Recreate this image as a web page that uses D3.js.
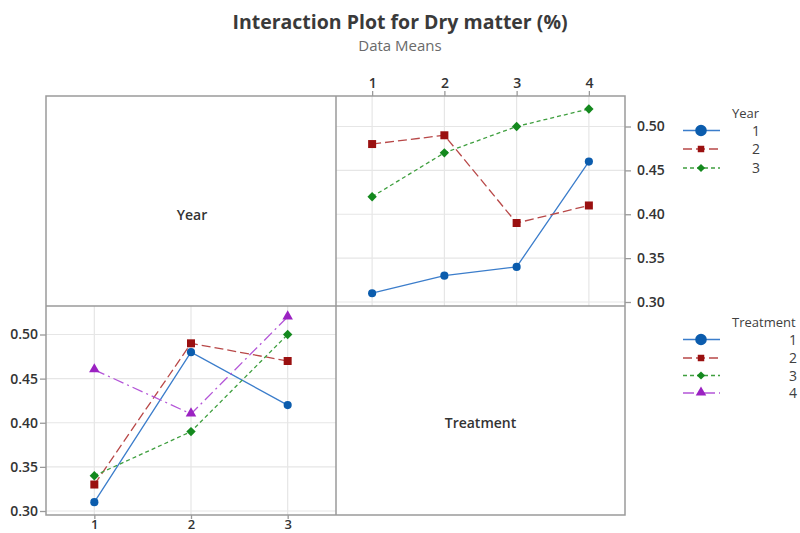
<!DOCTYPE html>
<html>
<head>
<meta charset="utf-8">
<script src="https://cdn.jsdelivr.net/npm/d3@7"></script>
<style>
  html, body { margin: 0; padding: 0; background: #ffffff; }
  svg { display: block; font-family: "Open Sans", "Noto Sans", sans-serif; }
</style>
</head>
<body>
<svg id="chart" width="800" height="533"></svg>
<script>
// ---------------- Data ----------------
const chartTitle = "Interaction Plot for Dry matter (%)";
const chartSubtitle = "Data Means";

const treatmentLevels = [1, 2, 3, 4];
const yearLevels = [1, 2, 3];

// Top-right panel: x = Treatment, one line per Year
const yearNames = ["1", "2", "3"];
const year1Means = [0.31, 0.33, 0.34, 0.46];
const year2Means = [0.48, 0.49, 0.39, 0.41];
const year3Means = [0.42, 0.47, 0.50, 0.52];

// Bottom-left panel: x = Year, one line per Treatment
const treatmentNames = ["1", "2", "3", "4"];
const treat1Means = [0.31, 0.48, 0.42];
const treat2Means = [0.33, 0.49, 0.47];
const treat3Means = [0.34, 0.39, 0.50];
const treat4Means = [0.46, 0.41, 0.52];

const yTicks = [0.30, 0.35, 0.40, 0.45, 0.50];
const yTickLabels = ["0.30", "0.35", "0.40", "0.45", "0.50"];

// ---------------- Styles ----------------
const markerColors = ["#0b5cad", "#9a1010", "#14891e", "#9b22c2"];
const lineColors   = ["#3b7dcb", "#b84848", "#3f9f3f", "#b456d8"];
const dashes       = [null, "9,4", "4,3", "11,4,2,4"];
const symbolTypes  = ["circle", "square", "diamond", "triangle"];

const svg = d3.select("#chart");

// ---------------- Layout ----------------
const L = 46, M = 336, R = 625, T = 96, H = 306, B = 515;
const gridColor = "#e6e6e6";
const frameColor = "#9a9a9a";
const textColor = "#333333";

// Scales
const yTop = d3.scaleLinear().domain([0.30, 0.50]).range([302, 126.5]);
const yBot = d3.scaleLinear().domain([0.30, 0.50]).range([511, 334.5]);
const xTop = d3.scaleLinear().domain([0.5, 4.5]).range([M, R]);
const xBot = d3.scaleLinear().domain([0.5, 3.5]).range([L, M]);

function symbolPath(type, size) {
  if (type === "circle") return d3.symbol(d3.symbolCircle, size)();
  if (type === "square") return d3.symbol(d3.symbolSquare, size)();
  if (type === "triangle") return d3.symbol(d3.symbolTriangle, size)();
  return d3.symbol(d3.symbolSquare, size)(); // rotated for diamond
}
function drawMarker(g, type, x, y, size, color) {
  const p = g.append("path")
    .attr("d", symbolPath(type, size))
    .attr("fill", color);
  if (type === "diamond") p.attr("transform", `translate(${x},${y}) rotate(45)`);
  else if (type === "triangle") p.attr("transform", `translate(${x},${y - 0.5})`);
  else p.attr("transform", `translate(${x},${y})`);
}
const markerSizes = { circle: 52, square: 64, diamond: 44, triangle: 48 };

// ---------------- Title ----------------
svg.append("text").attr("x", 400).attr("y", 29).attr("text-anchor", "middle")
  .attr("font-size", 19.5).attr("font-weight", 700).attr("fill", "#3a3a3a")
  .text(chartTitle);
svg.append("text").attr("x", 400).attr("y", 51).attr("text-anchor", "middle")
  .attr("font-size", 15).attr("fill", "#6a6a6a")
  .text(chartSubtitle);

// ---------------- Gridlines ----------------
const gTopGrid = svg.append("g");
yTicks.forEach(v => {
  gTopGrid.append("line").attr("x1", M).attr("x2", R).attr("y1", yTop(v)).attr("y2", yTop(v))
    .attr("stroke", gridColor).attr("stroke-width", 1.2);
});
treatmentLevels.forEach(v => {
  gTopGrid.append("line").attr("x1", xTop(v)).attr("x2", xTop(v)).attr("y1", T).attr("y2", H)
    .attr("stroke", gridColor).attr("stroke-width", 1.2);
});
const gBotGrid = svg.append("g");
yTicks.forEach(v => {
  gBotGrid.append("line").attr("x1", L).attr("x2", M).attr("y1", yBot(v)).attr("y2", yBot(v))
    .attr("stroke", gridColor).attr("stroke-width", 1.2);
});
yearLevels.forEach(v => {
  gBotGrid.append("line").attr("x1", xBot(v)).attr("x2", xBot(v)).attr("y1", H).attr("y2", B)
    .attr("stroke", gridColor).attr("stroke-width", 1.2);
});

// ---------------- Axes ----------------
// Top panel: x axis on top, y axis on right
const axTopX = d3.axisTop(xTop).tickValues(treatmentLevels).tickSize(5).tickPadding(3).tickFormat(d3.format("d"));
const gAxTopX = svg.append("g").attr("transform", `translate(0,${T})`).call(axTopX);
const axTopY = d3.axisRight(yTop).tickValues(yTicks).tickSize(6).tickPadding(6).tickFormat((d, i) => yTickLabels[i]);
const gAxTopY = svg.append("g").attr("transform", `translate(${R},0)`).call(axTopY);
// Bottom panel: x axis on bottom, y axis on left
const axBotX = d3.axisBottom(xBot).tickValues(yearLevels).tickSize(4).tickPadding(1).tickFormat(d3.format("d"));
const gAxBotX = svg.append("g").attr("transform", `translate(0,${B})`).call(axBotX);
const axBotY = d3.axisLeft(yBot).tickValues(yTicks).tickSize(6).tickPadding(2).tickFormat((d, i) => yTickLabels[i]);
const gAxBotY = svg.append("g").attr("transform", `translate(${L},0)`).call(axBotY);

[gAxTopX, gAxTopY, gAxBotX, gAxBotY].forEach(g => {
  g.select(".domain").remove();
  g.selectAll(".tick line").attr("stroke", frameColor).attr("stroke-width", 1.3);
  g.selectAll(".tick text").attr("fill", textColor).attr("font-size", 14)
    .attr("font-weight", 600).attr("font-family", "'Open Sans', 'Noto Sans', sans-serif");
});
gAxBotX.selectAll(".tick text").attr("font-size", 13);

// ---------------- Frame ----------------
const gFrame = svg.append("g").attr("fill", "none").attr("stroke", frameColor).attr("stroke-width", 1.5);
gFrame.append("rect").attr("x", L).attr("y", T).attr("width", R - L).attr("height", B - T);
gFrame.append("line").attr("x1", M).attr("x2", M).attr("y1", T).attr("y2", B);
gFrame.append("line").attr("x1", L).attr("x2", R).attr("y1", H).attr("y2", H);

// ---------------- Panel labels ----------------
svg.append("text").attr("x", (L + M) / 2 + 1).attr("y", 220).attr("text-anchor", "middle")
  .attr("font-size", 14).attr("font-weight", 600).attr("fill", textColor).text("Year");
svg.append("text").attr("x", (M + R) / 2).attr("y", 428).attr("text-anchor", "middle")
  .attr("font-size", 14).attr("font-weight", 600).attr("fill", textColor).text("Treatment");

// ---------------- Series ----------------
function drawSeries(xs, xScale, yScale, values, idx) {
  const g = svg.append("g");
  const pts = xs.map((x, i) => [xScale(x), yScale(values[i])]);
  g.append("path").attr("d", d3.line()(pts)).attr("fill", "none")
    .attr("stroke", lineColors[idx]).attr("stroke-width", 1.3)
    .attr("stroke-dasharray", dashes[idx]);
  pts.forEach(p => drawMarker(g, symbolTypes[idx], p[0], p[1], markerSizes[symbolTypes[idx]], markerColors[idx]));
}
const yearSeries = [year1Means, year2Means, year3Means];
yearSeries.forEach((vals, i) => drawSeries(treatmentLevels, xTop, yTop, vals, i));
const treatSeries = [treat1Means, treat2Means, treat3Means, treat4Means];
treatSeries.forEach((vals, i) => drawSeries(yearLevels, xBot, yBot, vals, i));

// ---------------- Legends ----------------
const legendMarkerSizes = { circle: 105, square: 42, diamond: 34, triangle: 48 };
function drawLegend(title, names, titleY, rowYs) {
  const g = svg.append("g");
  g.append("text").attr("x", 732).attr("y", titleY).attr("font-size", 13)
    .attr("fill", "#404040").text(title);
  names.forEach((n, i) => {
    const y = rowYs[i];
    g.append("line").attr("x1", 683).attr("x2", 720).attr("y1", y).attr("y2", y)
      .attr("stroke", lineColors[i]).attr("stroke-width", 1.4)
      .attr("stroke-dasharray", dashes[i]);
    drawMarker(g, symbolTypes[i], 701, y, legendMarkerSizes[symbolTypes[i]], markerColors[i]);
    g.append("text").attr("x", titleY > 200 ? 797 : 760).attr("y", y + 5).attr("text-anchor", "end")
      .attr("font-size", 14).attr("fill", "#404040").text(n);
  });
}
drawLegend("Year", yearNames, 118, [130.5, 149, 168]);
drawLegend("Treatment", treatmentNames, 327, [339.5, 358, 375.5, 393]);
</script>
</body>
</html>
